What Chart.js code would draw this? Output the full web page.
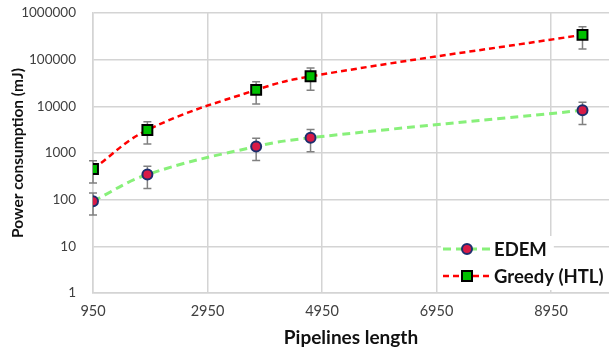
<!DOCTYPE html>
<html>
<head>
<meta charset="utf-8">
<script src="https://cdn.jsdelivr.net/npm/chart.js@4.4.0/dist/chart.umd.min.js"></script>
<style>
  html, body { margin: 0; padding: 0; background: #fff; overflow: hidden; }
</style>
</head>
<body>
<canvas id="powerChart" width="609" height="349"></canvas>
<script>
// values
const pipelineLengths = [950, 1900, 3800, 4750, 9500];
const edemPower = [93, 345, 1380, 2120, 8200];
const edemError = [46, 172, 690, 1060, 4100];
const greedyPower = [455, 3100, 22500, 44000, 340000];
const greedyError = [228, 1550, 11250, 22000, 170000];
const xTicks = [950, 2950, 4950, 6950, 8950];
const yTicks = [1, 10, 100, 1000, 10000, 100000, 1000000];
const seriesNames = ['EDEM', 'Greedy (HTL)'];

const FONT = "Lato, 'Open Sans', sans-serif";

function toPoints(values) {
  return values.map((v, i) => ({ x: pipelineLengths[i], y: v }));
}

// Excel style error bars drawn through the chart scales
const errorBarPlugin = {
  id: 'errorBars',
  beforeDatasetsDraw(chart) {
    const ctx = chart.ctx;
    const xs = chart.scales.x, ys = chart.scales.y;
    chart.data.datasets.forEach(ds => {
      ctx.save();
      ctx.strokeStyle = '#808080';
      ctx.lineWidth = 1.5;
      ds.data.forEach((pt, i) => {
        const err = ds.errors[i];
        const px = xs.getPixelForValue(pt.x);
        const top = ys.getPixelForValue(pt.y + err);
        const bot = ys.getPixelForValue(pt.y - err);
        ctx.beginPath();
        ctx.moveTo(px, top); ctx.lineTo(px, bot);
        ctx.moveTo(px - 4, top); ctx.lineTo(px + 4, top);
        ctx.moveTo(px - 4, bot); ctx.lineTo(px + 4, bot);
        ctx.stroke();
      });
      ctx.restore();
    });
  }
};

// legend sitting inside the plot, bottom right
const insideLegend = {
  id: 'insideLegend',
  afterDraw(chart) {
    const ctx = chart.ctx;
    const area = chart.chartArea;
    ctx.save();
    ctx.font = "bold 18.5px " + FONT;
    ctx.textBaseline = 'middle';
    chart.data.datasets.forEach((ds, i) => {
      const cy = area.bottom - 44 + i * 27;
      const x0 = area.right - 168;
      const tw = ctx.measureText(ds.label).width;
      ctx.fillStyle = '#fff';
      ctx.fillRect(x0, cy - 13, 54 + tw + 6, 27);
      // sample line
      ctx.strokeStyle = ds.borderColor;
      ctx.lineWidth = ds.borderWidth;
      ctx.setLineDash(ds.borderDash);
      ctx.beginPath();
      ctx.moveTo(x0 + 2, cy); ctx.lineTo(x0 + 49, cy);
      ctx.stroke();
      ctx.setLineDash([]);
      // marker
      ctx.fillStyle = ds.pointBackgroundColor;
      ctx.strokeStyle = ds.pointBorderColor;
      ctx.lineWidth = ds.pointBorderWidth;
      ctx.beginPath();
      if (ds.pointStyle === 'rect') {
        ctx.rect(x0 + 26 - 5, cy - 5, 10, 10);
      } else {
        ctx.arc(x0 + 26, cy, 5, 0, Math.PI * 2);
      }
      ctx.fill();
      ctx.stroke();
      ctx.fillStyle = '#111';
      ctx.fillText(ds.label, x0 + 53, cy + 1);
    });
    ctx.restore();
  }
};

new Chart(document.getElementById('powerChart'), {
  type: 'line',
  data: {
    datasets: [{
      label: seriesNames[0],
      data: toPoints(edemPower),
      errors: edemError,
      borderColor: '#88f07a',
      borderWidth: 3,
      borderDash: [8, 5],
      tension: 0.4,
      pointStyle: 'circle',
      pointRadius: 5,
      pointBackgroundColor: '#d81b47',
      pointBorderColor: '#1c2e6e',
      pointBorderWidth: 2
    }, {
      label: seriesNames[1],
      data: toPoints(greedyPower),
      errors: greedyError,
      borderColor: '#ff0000',
      borderWidth: 2.5,
      borderDash: [6, 4],
      tension: 0.4,
      pointStyle: 'rect',
      pointRadius: 7,
      pointBackgroundColor: '#00c000',
      pointBorderColor: '#000000',
      pointBorderWidth: 2
    }]
  },
  options: {
    responsive: false,
    animation: false,
    layout: { autoPadding: false, padding: { top: 13, right: 0, left: 0, bottom: 0 } },
    plugins: { legend: { display: false }, tooltip: { enabled: false } },
    scales: {
      x: {
        type: 'linear',
        min: 950,
        max: 9963,
        afterBuildTicks: s => { s.ticks = xTicks.map(v => ({ value: v })); },
        afterFit: s => { s.height = 56; s.paddingLeft = 0; s.paddingRight = 0; },
        grid: { color: '#d4d4d4', lineWidth: 1.5, drawTicks: false },
        border: { color: '#d4d4d4', width: 1.5 },
        ticks: { color: '#404040', font: { family: FONT, size: 14.5 }, padding: 10, maxRotation: 0,
                 callback: v => String(v) },
        title: { display: true, text: 'Pipelines length', color: '#111',
                 font: { family: FONT, size: 19, weight: 'bold' }, padding: { top: 0, bottom: 0 } }
      },
      y: {
        type: 'logarithmic',
        min: 1,
        max: 1000000,
        afterBuildTicks: s => { s.ticks = yTicks.map(v => ({ value: v })); },
        afterFit: s => { s.width = 93; s.paddingTop = 0; s.paddingBottom = 0; },
        grid: { color: '#d4d4d4', lineWidth: 1.5, drawTicks: false },
        border: { color: '#d4d4d4', width: 1.5 },
        ticks: { color: '#404040', font: { family: FONT, size: 13.5 }, padding: 17,
                 callback: v => String(v) },
        title: { display: true, text: 'Power consumption (mJ)', color: '#111',
                 font: { family: FONT, size: 15.5, weight: 'bold' }, padding: { top: 9, bottom: 0 } }
      }
    }
  },
  plugins: [errorBarPlugin, insideLegend]
});
</script>
</body>
</html>
